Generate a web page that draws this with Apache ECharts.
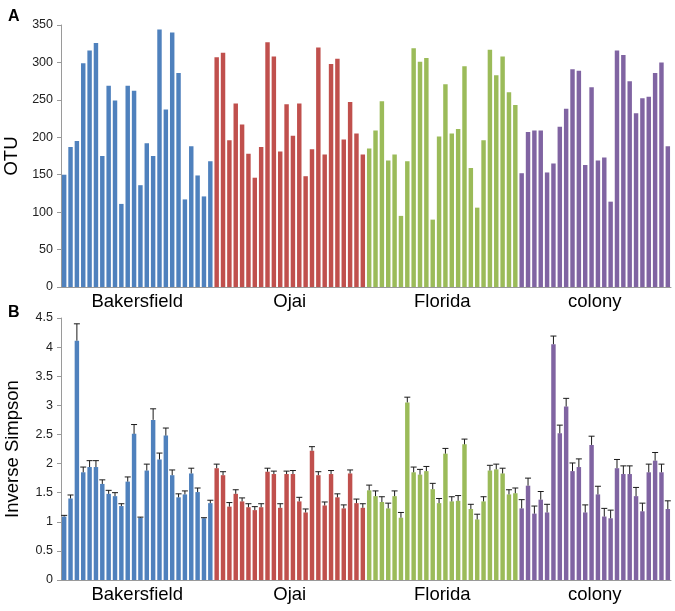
<!DOCTYPE html>
<html>
<head>
<meta charset="utf-8">
<script src="https://cdn.jsdelivr.net/npm/echarts@6/dist/echarts.min.js"></script>
<style>
  html, body { margin: 0; padding: 0; background: #fff; }
  #chart { width: 675px; height: 611px; }
</style>
</head>
<body>
<div id="chart"></div>
<script>
const groups = ["Bakersfield", "Ojai", "Florida", "colony"];
const groupColors = ["#4f81bd", "#c0504d", "#9bbb59", "#8064a2"];

// panel A: OTU, 24 samples per site
const otuBakersfield = [150, 187, 195, 299, 316, 326, 175, 269, 249, 111, 269, 262, 136, 192, 175, 344, 237, 340, 286, 117, 188, 149, 121, 168];
const otuOjai = [307, 313, 196, 245, 217, 178, 146, 187, 327, 308, 181, 244, 202, 245, 148, 184, 320, 177, 298, 305, 197, 247, 205, 177];
const otuFlorida = [185, 209, 248, 169, 177, 95, 168, 319, 301, 306, 90, 201, 271, 205, 211, 295, 159, 106, 196, 317, 283, 308, 260, 243];
const otuColony = [152, 207, 209, 209, 153, 165, 214, 238, 291, 289, 163, 267, 169, 173, 114, 316, 310, 275, 232, 252, 254, 286, 300, 188];

// panel B: inverse Simpson and error (upper bar only)
const invBakersfield = [1.09, 1.40, 4.11, 1.85, 1.94, 1.94, 1.65, 1.48, 1.44, 1.27, 1.69, 2.51, 1.07, 1.88, 2.75, 2.07, 2.48, 1.80, 1.42, 1.47, 1.83, 1.51, 1.06, 1.32];
const errBakersfield = [0.02, 0.06, 0.29, 0.09, 0.11, 0.11, 0.07, 0.06, 0.06, 0.04, 0.08, 0.16, 0.01, 0.11, 0.19, 0.11, 0.13, 0.09, 0.06, 0.06, 0.09, 0.07, 0.01, 0.05];
const invOjai = [1.92, 1.80, 1.26, 1.48, 1.35, 1.25, 1.20, 1.25, 1.86, 1.82, 1.24, 1.82, 1.82, 1.35, 1.16, 2.22, 1.80, 1.28, 1.82, 1.42, 1.23, 1.83, 1.32, 1.24];
const errOjai = [0.07, 0.06, 0.07, 0.07, 0.06, 0.06, 0.06, 0.06, 0.06, 0.05, 0.07, 0.05, 0.06, 0.07, 0.06, 0.07, 0.06, 0.06, 0.06, 0.06, 0.06, 0.06, 0.07, 0.07];
const invFlorida = [1.54, 1.44, 1.34, 1.23, 1.44, 1.07, 3.05, 1.85, 1.81, 1.87, 1.56, 1.32, 2.17, 1.35, 1.36, 2.33, 1.22, 1.04, 1.35, 1.88, 1.90, 1.83, 1.47, 1.49];
const errFlorida = [0.09, 0.09, 0.09, 0.09, 0.09, 0.09, 0.09, 0.09, 0.09, 0.08, 0.10, 0.08, 0.09, 0.08, 0.09, 0.09, 0.08, 0.09, 0.08, 0.09, 0.09, 0.09, 0.08, 0.09];
const invColony = [1.23, 1.62, 1.14, 1.38, 1.16, 4.05, 2.52, 2.98, 1.87, 1.94, 1.16, 2.32, 1.47, 1.09, 1.06, 1.92, 1.82, 1.82, 1.44, 1.18, 1.85, 2.05, 1.85, 1.22];
const errColony = [0.15, 0.13, 0.13, 0.14, 0.14, 0.14, 0.14, 0.14, 0.14, 0.14, 0.13, 0.15, 0.14, 0.14, 0.14, 0.15, 0.14, 0.14, 0.15, 0.14, 0.14, 0.14, 0.14, 0.14];

const otuTicks = [0, 350, 50];
const invTicks = [0, 4.5, 0.5];

const otuAll = [otuBakersfield, otuOjai, otuFlorida, otuColony];
const invAll = [invBakersfield, invOjai, invFlorida, invColony];
const errAll = [errBakersfield, errOjai, errFlorida, errColony];

const samples = [];
otuAll.forEach((arr, g) => arr.forEach((v, i) => samples.push(groups[g] + " " + (i + 1))));

function colored(lists) {
  const out = [];
  lists.forEach((arr, g) => arr.forEach(v => out.push({ value: v, itemStyle: { color: groupColors[g] } })));
  return out;
}
const errData = [];
let k = 0;
invAll.forEach((arr, g) => arr.forEach((v, i) => { errData.push([k, v, errAll[g][i]]); k++; }));

const font = "Liberation Sans, Arial, sans-serif";
const axisGrey = "#9a9a9a";

function sampleAxis(gi) {
  return {
    type: "category", gridIndex: gi, data: samples,
    axisLine: { lineStyle: { color: axisGrey } },
    axisTick: { interval: 0, length: 4, lineStyle: { color: axisGrey } },
    axisLabel: { show: false }
  };
}
function groupAxis(gi) {
  return {
    type: "category", gridIndex: gi, data: groups, position: "bottom",
    axisLine: { show: false }, axisTick: { show: false },
    axisLabel: { fontSize: 18.5, color: "#000", fontFamily: font, margin: 5 }
  };
}
function valueAxis(gi, ticks, name) {
  return {
    type: "value", gridIndex: gi, min: ticks[0], max: ticks[1], interval: ticks[2],
    name: name, nameLocation: "middle", nameGap: 39,
    nameTextStyle: { fontSize: 18.5, color: "#000", fontFamily: font },
    splitLine: { show: false },
    axisLine: { show: true, lineStyle: { color: axisGrey } },
    axisTick: { show: true, length: 4, lineStyle: { color: axisGrey } },
    axisLabel: { fontSize: 12.5, color: "#222", fontFamily: font, margin: 8 }
  };
}

const chart = echarts.init(document.getElementById("chart"));
chart.setOption({
  animation: false,
  title: [
    { text: "A", left: 3, top: 4, textStyle: { fontSize: 16, fontWeight: "bold", color: "#000", fontFamily: font } },
    { text: "B", left: 3, top: 300, textStyle: { fontSize: 16, fontWeight: "bold", color: "#000", fontFamily: font } }
  ],
  grid: [
    { left: 61, right: 4, top: 25, height: 262, outerBoundsMode: "none", containLabel: false },
    { left: 61, right: 4, top: 318, height: 262, outerBoundsMode: "none", containLabel: false }
  ],
  xAxis: [sampleAxis(0), groupAxis(0), sampleAxis(1), groupAxis(1)],
  yAxis: [valueAxis(0, otuTicks, "OTU"), valueAxis(1, invTicks, "Inverse Simpson")],
  series: [
    { type: "bar", xAxisIndex: 0, yAxisIndex: 0, barCategoryGap: "30%", data: colored(otuAll) },
    { type: "bar", xAxisIndex: 2, yAxisIndex: 1, barCategoryGap: "30%", data: colored(invAll) },
    {
      type: "custom", xAxisIndex: 2, yAxisIndex: 1, data: errData, z: 5,
      renderItem(params, api) {
        const idx = api.value(0), v = api.value(1), e = api.value(2);
        const p0 = api.coord([idx, v]);
        const p1 = api.coord([idx, v + e]);
        const style = { stroke: "#1a1a1a", lineWidth: 1 };
        return {
          type: "group",
          children: [
            { type: "line", shape: { x1: p0[0], y1: p0[1], x2: p1[0], y2: p1[1] }, style },
            { type: "line", shape: { x1: p1[0] - 3, y1: p1[1], x2: p1[0] + 3, y2: p1[1] }, style }
          ]
        };
      }
    }
  ]
});
</script>
</body>
</html>
